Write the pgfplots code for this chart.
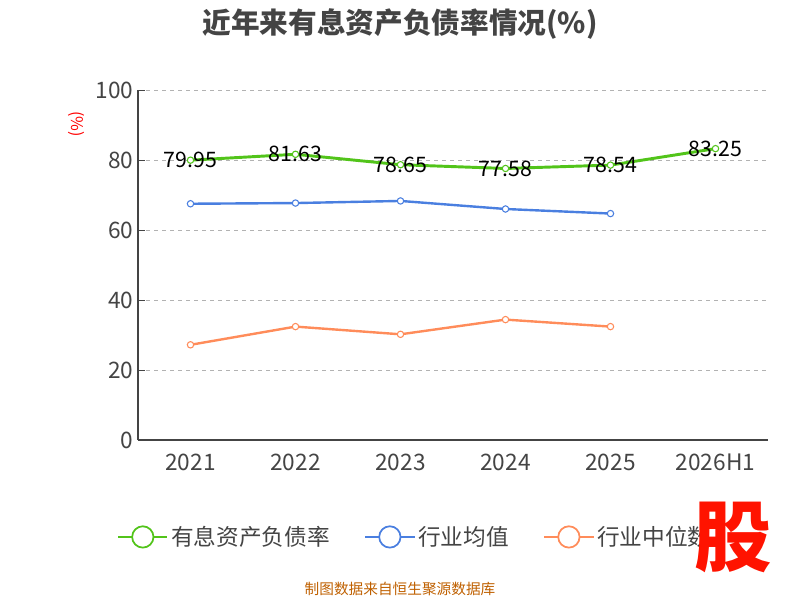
\documentclass[border=0pt]{standalone}
\usepackage{pgfplots}
\pgfplotsset{compat=1.18}
\usepackage{fontspec}
\setmainfont{Noto Sans CJK SC}
\definecolor{cg}{HTML}{52C41A}
\definecolor{cb}{HTML}{4A7FE0}
\definecolor{co}{HTML}{FF8C5A}
\definecolor{tk}{HTML}{444444}
\begin{document}
\begin{tikzpicture}
\path (0,0) rectangle (600pt,450pt);
\node[font=\bfseries\fontsize{21.5}{24}\selectfont, text=tk] at (300pt,432pt) {近年来有息资产负债率情况(\%)};
\node[rotate=-90, text=red, font=\fontsize{12}{13}\selectfont] at (57pt,357pt) {(\%)};
\begin{axis}[
  at={(103.5pt,120pt)}, anchor=south west, scale only axis,
  width=472.5pt, height=262.5pt,
  xmin=-0.5, xmax=5.5, ymin=0, ymax=100,
  xtick={0,...,5}, xticklabels={2021,2022,2023,2024,2025,2026H1},
  extra x ticks={-0.5,0.5,1.5,2.5,3.5,4.5,5.5}, extra x tick labels={},
  extra x tick style={major tick length=5pt, tick style={tk}, grid=none},
  x tick style={draw=none},
  xticklabel style={yshift=-7pt},
  ytick={0,20,...,100},
  ymajorgrids, grid style={dashed, gray!60},
  axis x line*=bottom, axis y line*=left,
  axis line style={tk, line width=0.8pt},
  y tick style={tk}, major tick length=5pt,
  tick label style={text=tk, font=\fontsize{17}{19}\selectfont},
  /pgf/number format/assume math mode=true,
  legend style={at={(0.44,-0.277)}, anchor=center, draw=none, legend columns=3,
    font=\fontsize{17}{19}\selectfont, text=tk,
    /tikz/every even column/.append style={column sep=24pt}},
  legend image code/.code={\draw[#1, line width=1.3pt] (0cm,0cm) -- (1.3cm,0cm); \draw[#1, fill=white, line width=1.3pt] (0.65cm,0cm) circle (8pt);},
  clip=false
]
\addplot[cg, line width=2.2pt, mark=*, mark options={fill=white, line width=0.8pt, scale=1.2},
  nodes near coords, every node near coord/.append style={text=black, font=\fontsize{16}{18}\selectfont, anchor=center},
  point meta=explicit symbolic]
  coordinates {(0,79.95)[79.95] (1,81.63)[81.63] (2,78.65)[78.65] (3,77.58)[77.58] (4,78.54)[78.54] (5,83.25)[83.25]};
\addlegendentry{有息资产负债率}
\addplot[cb, line width=1.8pt, mark=*, mark options={fill=white, line width=0.8pt, scale=1.2}]
  coordinates {(0,67.5) (1,67.7) (2,68.3) (3,66.0) (4,64.7)};
\addlegendentry{行业均值}
\addplot[co, line width=1.8pt, mark=*, mark options={fill=white, line width=0.8pt, scale=1.2}]
  coordinates {(0,27.2) (1,32.4) (2,30.2) (3,34.4) (4,32.4)};
\addlegendentry{行业中位数}
\end{axis}
\node[text=red!85!orange, font=\bfseries\fontsize{58}{60}\selectfont] at (550pt,47pt) {股};
\node[text=orange!75!black, font=\fontsize{11}{12}\selectfont] at (300pt,8pt) {制图数据来自恒生聚源数据库};
\end{tikzpicture}
\end{document}
